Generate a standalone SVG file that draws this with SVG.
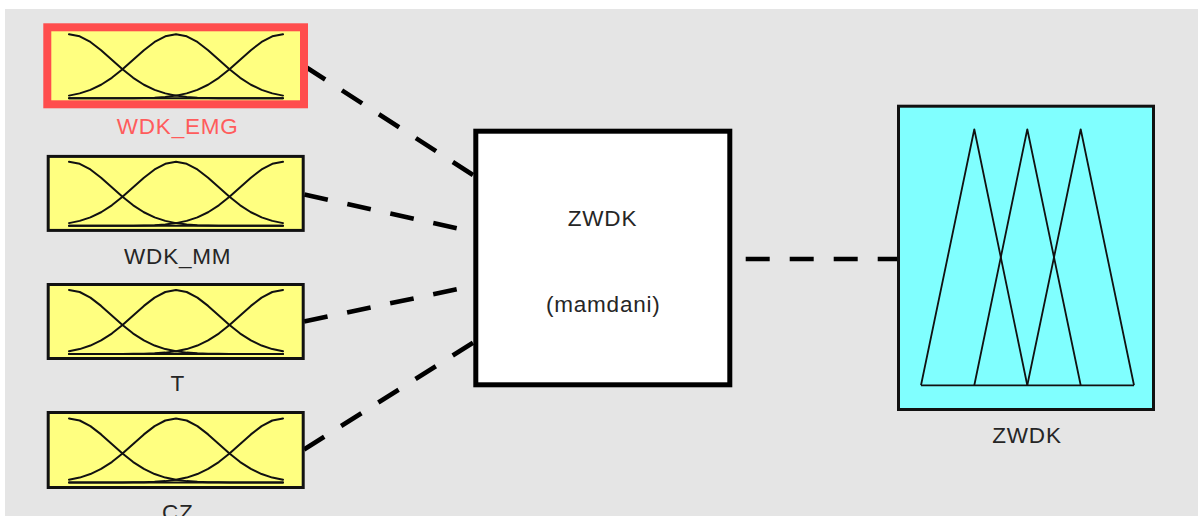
<svg xmlns="http://www.w3.org/2000/svg" xmlns:xlink="http://www.w3.org/1999/xlink" width="1198" height="516" viewBox="0 0 1198 516">
<style>
.bg{fill:#e5e5e5}
.inbox{fill:#ffff80;stroke:#111;stroke-width:3}
.sel{fill:#ffff80;stroke:#ff4d4d;stroke-width:8}
.mf{fill:none;stroke:#111;stroke-width:2;stroke-linejoin:round;stroke-linecap:round}
.lbl{font-family:"Liberation Sans",Arial,sans-serif;font-size:22.5px;letter-spacing:0.8px;fill:#262626;text-anchor:middle}
.red{fill:#ff5c5c}
.conn{fill:none;stroke:#000;stroke-width:4.6;stroke-dasharray:24 20}
.rule{fill:#fff;stroke:#000;stroke-width:5}
.outbox{fill:#80ffff;stroke:#111;stroke-width:3}
.tri{fill:none;stroke:#111;stroke-width:1.8;stroke-linejoin:round}
</style>
<defs>
<g id="mficon">
<polyline class="mf" points="-107,-31.5 -96.3,-29.5 -85.6,-23.88 -74.9,-15.62 -64.2,-6.05 -53.5,3.51 -42.8,12.04 -32.1,18.94 -21.4,24.07 -10.7,27.58 0,29.81 10.7,31.12 21.4,31.83 32.1,32.2 42.8,32.37 53.5,32.45 107,32.5"/>
<polyline class="mf" points="-107,29.81 -96.3,27.58 -85.6,24.07 -74.9,18.94 -64.2,12.04 -53.5,3.51 -42.8,-6.05 -32.1,-15.62 -21.4,-23.88 -10.7,-29.5 0,-31.5 10.7,-29.5 21.4,-23.88 32.1,-15.62 42.8,-6.05 53.5,3.51 64.2,12.04 74.9,18.94 85.6,24.07 96.3,27.58 107,29.81"/>
<polyline class="mf" points="107,-31.5 96.3,-29.5 85.6,-23.88 74.9,-15.62 64.2,-6.05 53.5,3.51 42.8,12.04 32.1,18.94 21.4,24.07 10.7,27.58 0,29.81 -10.7,31.12 -21.4,31.83 -32.1,32.2 -42.8,32.37 -53.5,32.45 -107,32.5"/>
<line class="mf" x1="-107" y1="32.5" x2="107" y2="32.5"/>
</g>
</defs>
<rect x="0" y="0" width="1198" height="516" fill="#ffffff"/>
<rect class="bg" x="5" y="9" width="1193" height="507"/>
<g id="connectors">
<line class="conn" x1="473" y1="175" x2="304" y2="65.8"/>
<line class="conn" x1="456.7" y1="228.3" x2="304" y2="194.5"/>
<line class="conn" x1="456.7" y1="289.3" x2="304" y2="321.5"/>
<line class="conn" x1="473" y1="342.7" x2="304" y2="449.5"/>
<line class="conn" x1="745.7" y1="259" x2="897" y2="259"/>
</g>
<g id="in-WDK_EMG">
<rect class="sel" x="47.3" y="27.3" width="256.7" height="77"/>
<use xlink:href="#mficon" href="#mficon" transform="translate(176,65.8)"/>
<text class="lbl red" x="177.7" y="133.5">WDK_EMG</text>
</g>
<g id="in-WDK_MM">
<rect class="inbox" x="48.2" y="156.4" width="255" height="74"/>
<use xlink:href="#mficon" href="#mficon" transform="translate(176,193.3)"/>
<text class="lbl" x="177.7" y="264">WDK_MM</text>
</g>
<g id="in-T">
<rect class="inbox" x="48.2" y="284.5" width="255" height="74"/>
<use xlink:href="#mficon" href="#mficon" transform="translate(176,321.5)"/>
<text class="lbl" x="177.7" y="390.7">T</text>
</g>
<g id="in-CZ">
<rect class="inbox" x="48.2" y="412.5" width="255" height="75"/>
<use xlink:href="#mficon" href="#mficon" transform="translate(176,450)"/>
<text class="lbl" x="177.7" y="519.5">CZ</text>
</g>
<g id="rules-ZWDK">
<rect class="rule" x="475.8" y="131.2" width="254" height="253.6"/>
<text class="lbl" x="602.5" y="225.7">ZWDK</text>
<text class="lbl" x="603.3" y="311.7">(mamdani)</text>
</g>
<g id="out-ZWDK">
<rect class="outbox" x="898.5" y="106.2" width="255" height="303.3"/>
<polyline class="tri" points="921,385.3 974.3,129.3 1027.3,385.3"/>
<polyline class="tri" points="974.3,385.3 1027.3,129.3 1080.7,385.3"/>
<polyline class="tri" points="1027.3,385.3 1080.7,129.3 1134,385.3"/>
<line class="tri" x1="921" y1="385.3" x2="1134" y2="385.3"/>
<text class="lbl" x="1027" y="442.5">ZWDK</text>
</g>
</svg>
